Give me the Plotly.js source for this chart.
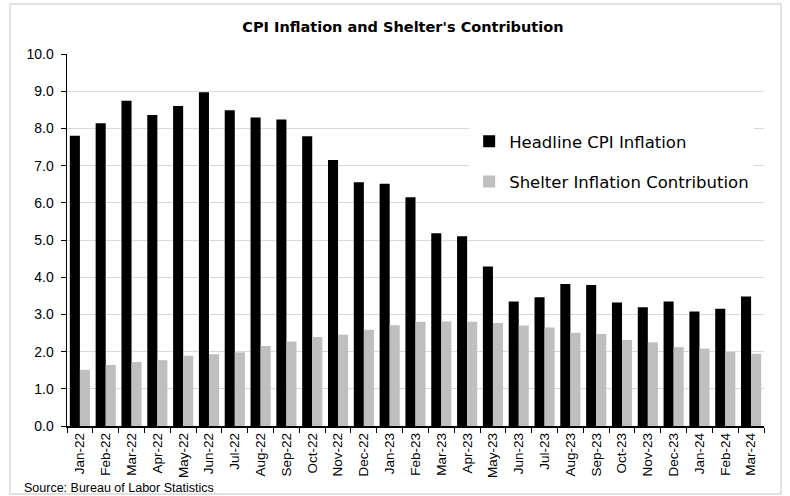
<!DOCTYPE html>
<html>
<head>
<meta charset="utf-8">
<script src="https://cdn.plot.ly/plotly-3.0.1.min.js"></script>
<style>html,body{margin:0;padding:0;background:#fff;}#chart{width:790px;height:496px;}</style>
</head>
<body>
<div id="chart"></div>
<script>
const months = ["Jan-22","Feb-22","Mar-22","Apr-22","May-22","Jun-22","Jul-22","Aug-22","Sep-22","Oct-22","Nov-22","Dec-22",
  "Jan-23","Feb-23","Mar-23","Apr-23","May-23","Jun-23","Jul-23","Aug-23","Sep-23","Oct-23","Nov-23","Dec-23",
  "Jan-24","Feb-24","Mar-24"];
const headlineCPI = [7.80,8.14,8.74,8.36,8.60,8.97,8.49,8.29,8.24,7.79,7.15,6.55,
  6.51,6.15,5.18,5.10,4.29,3.35,3.46,3.82,3.79,3.32,3.19,3.35,
  3.08,3.15,3.48];
const shelterContribution = [1.51,1.64,1.72,1.77,1.89,1.93,1.98,2.15,2.27,2.39,2.45,2.59,
  2.71,2.80,2.81,2.80,2.77,2.70,2.65,2.51,2.47,2.31,2.25,2.12,
  2.08,1.99,1.94];
const yTicks = [0,1,2,3,4,5,6,7,8,9,10];

const legendFont = {family: "DejaVu Sans", size: 16.5, color: "#000"};

const data = [
  {type: "bar", name: "Headline CPI Inflation", x: months, y: headlineCPI,
   marker: {color: "#000000"}, legendgroup: "a", hoverinfo: "x+y"},
  {type: "bar", name: "Shelter Inflation Contribution", x: months, y: shelterContribution,
   marker: {color: "#bfbfbf"}, legendgroup: "b", hoverinfo: "x+y"}
];

const layout = {
  width: 790, height: 496,
  margin: {l: 67, r: 26, t: 54, b: 70},
  paper_bgcolor: "#ffffff", plot_bgcolor: "#ffffff",
  barmode: "group", bargap: 0.22, bargroupgap: 0,
  title: {text: "<b>CPI Inflation and Shelter's Contribution</b>",
    font: {family: "DejaVu Sans", size: 14.5, color: "#000"},
    x: 0.51, xref: "container", xanchor: "center", y: 1 - 27/496, yref: "container", yanchor: "middle"},
  xaxis: {type: "category", tickangle: -90, tickson: "boundaries", ticks: "outside", ticklen: 5,
    tickcolor: "#000", showline: true, linecolor: "#000", linewidth: 1.5, showgrid: false,
    tickfont: {family: "Liberation Sans, Arial", size: 13.5, color: "#000"}, automargin: false},
  yaxis: {range: [0, 10], tickvals: yTicks, tickformat: ".1f", ticks: "outside", ticklen: 5,
    tickcolor: "#000", showline: true, linecolor: "#000", linewidth: 1.5, ticklabelstandoff: 4,
    showgrid: true, gridcolor: "#d9d9d9", gridwidth: 1, zeroline: false,
    tickfont: {family: "Liberation Sans, Arial", size: 14, color: "#000"}, automargin: false},
  legend: {x: 0.577, xanchor: "left", y: 0.812, yanchor: "top", bgcolor: "#ffffff",
    font: legendFont, traceorder: "grouped", tracegroupgap: 16, itemwidth: 30},
  showlegend: true,
  shapes: [{type: "rect", xref: "paper", yref: "paper",
    x0: (10-67)/697, x1: (781-67)/697, y0: (426-494)/372, y1: (426-4)/372,
    line: {color: "#d9d9d9", width: 1.5}, fillcolor: "rgba(0,0,0,0)", layer: "below"}],
  annotations: [{text: "Source: Bureau of Labor Statistics", xref: "paper", yref: "paper",
    x: (22-67)/697, y: (426-488)/372, xanchor: "left", yanchor: "middle", showarrow: false,
    font: {family: "Liberation Sans, Arial", size: 12.5, color: "#000"}}]
};

Plotly.newPlot("chart", data, layout, {displayModeBar: false, staticPlot: true});
</script>
</body>
</html>
